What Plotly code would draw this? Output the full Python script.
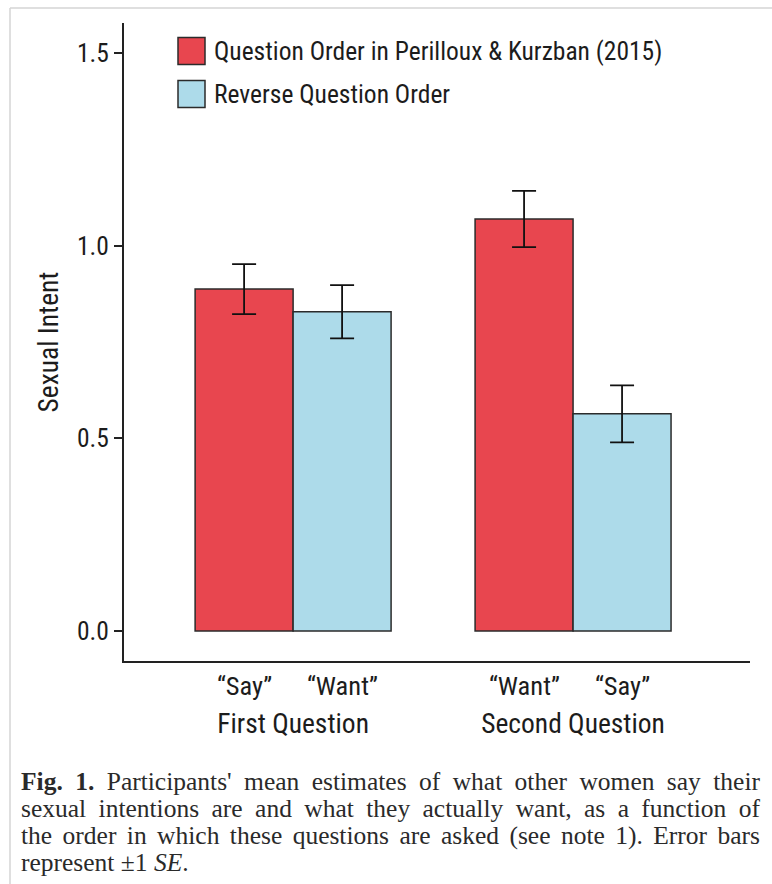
import json
import plotly.graph_objects as go

# ---- data ----
groups = ["First Question", "Second Question"]
series_names = ["Question Order in Perilloux & Kurzban (2015)", "Reverse Question Order"]
red_values = [0.888, 1.070]
red_se = [0.065, 0.073]
blue_values = [0.829, 0.564]
blue_se = [0.069, 0.074]
red_labels = ["\u201cSay\u201d", "\u201cWant\u201d"]
blue_labels = ["\u201cWant\u201d", "\u201cSay\u201d"]
y_ticks = [0.0, 0.5, 1.0, 1.5]
y_ticktext = ["0.0", "0.5", "1.0", "1.5"]
caption_lines = [
    "<b>Fig. 1.</b> Participants' mean estimates of what other women say their",
    "sexual intentions are and what they actually want, as a function of",
    "the order in which these questions are asked (see note 1). Error bars",
    "represent \u00b11 <i>SE</i>.",
]

RED = "#E8464F"
BLUE = "#ADDBEA"
EDGE = "#2b2b2b"
TXT = "#1c1c1c"
FONT = "Roboto Condensed, Liberation Sans Narrow, sans-serif"
SERIF = "Liberation Serif, Times New Roman, serif"

W, H = 772, 884
L, R, T, B = 124, 22, 23, 223
pw, ph = W - L - R, H - T - B
bargap = 0.30
half = (1 - bargap) / 4  # half-width of one bar in category units


def px_x(px):
    return (px - L) / pw


def px_y(py):
    return (H - B - py) / ph


fig = go.Figure()
fig.add_trace(go.Bar(
    x=groups, y=red_values, name=series_names[0],
    marker=dict(color=RED, line=dict(color=EDGE, width=1.5)),
    error_y=dict(type="data", array=red_se, color="#111111", thickness=1.8, width=12),
    showlegend=False,
))
fig.add_trace(go.Bar(
    x=groups, y=blue_values, name=series_names[1],
    marker=dict(color=BLUE, line=dict(color=EDGE, width=1.5)),
    error_y=dict(type="data", array=blue_se, color="#111111", thickness=1.8, width=12),
    showlegend=False,
))

annotations = []
for i, g in enumerate(groups):
    for lab, off in ((red_labels[i], -half), (blue_labels[i], half)):
        annotations.append(dict(
            x=i + off, xref="x", y=px_y(685), yref="paper", text=lab,
            showarrow=False, font=dict(family=FONT, size=26.5, color=TXT),
            xanchor="center", yanchor="middle"))

legend_rows = [(series_names[0], RED, 51), (series_names[1], BLUE, 94)]
shapes = []
for name, col, cy in legend_rows:
    shapes.append(dict(type="rect", xref="paper", yref="paper",
                       x0=px_x(178), x1=px_x(205), y0=px_y(cy + 13.5), y1=px_y(cy - 13.5),
                       fillcolor=col, line=dict(color=EDGE, width=1.5)))
    annotations.append(dict(x=px_x(212), xref="paper", y=px_y(cy), yref="paper",
                            text=name, showarrow=False, xanchor="left", yanchor="middle",
                            font=dict(family=FONT, size=25.5, color=TXT)))

shapes.append(dict(type="line", xref="paper", yref="paper", x0=px_x(10), x1=px_x(772),
                   y0=px_y(8), y1=px_y(8), line=dict(color="#d4d4d4", width=1.5)))
shapes.append(dict(type="line", xref="paper", yref="paper", x0=px_x(10), x1=px_x(10),
                   y0=px_y(8), y1=px_y(884), line=dict(color="#d4d4d4", width=1.5)))

caption_idx = []
for k, line in enumerate(caption_lines):
    caption_idx.append(len(annotations))
    annotations.append(dict(x=px_x(19), xref="paper", y=px_y(781 + 27 * k), yref="paper",
                            text=line, showarrow=False, xanchor="left", yanchor="middle",
                            font=dict(family=SERIF, size=25.5, color="#2a2a2a")))

fig.update_layout(
    width=W, height=H,
    margin=dict(l=L, r=R, t=T, b=B, autoexpand=False),
    paper_bgcolor="white", plot_bgcolor="white",
    barmode="group", bargap=bargap, bargroupgap=0,
    font=dict(family=FONT, color=TXT),
    annotations=annotations, shapes=shapes,
    xaxis=dict(range=[-0.604, 1.632], showgrid=False, zeroline=False,
               showline=True, linecolor="#222222", linewidth=2,
               ticks="", tickfont=dict(family=FONT, size=27.5, color=TXT),
               ticklabelstandoff=37, fixedrange=True),
    yaxis=dict(range=[-0.078, 1.579], showgrid=False, zeroline=False,
               showline=True, linecolor="#222222", linewidth=2,
               tickvals=y_ticks, ticktext=y_ticktext, ticks="outside", ticklen=8,
               tickwidth=1.5, tickcolor="#222222",
               tickfont=dict(family=FONT, size=25.5, color=TXT),
               title=dict(text="Sexual Intent", font=dict(family=FONT, size=27.5, color=TXT),
                          standoff=10)),
)

# justify the first three caption lines (like the printed caption)
justify = {str(caption_idx[k]): 739 for k in range(3)}
post = """
document.body.style.margin = '0px';
var targets = %s;
var gd = document.getElementById('{plot_id}');
Object.keys(targets).forEach(function(k){
  var t = gd.querySelector('g.annotation[data-index="' + k + '"] text.annotation-text');
  if (!t) return;
  var n = (t.textContent.match(/ /g) || []).length;
  var len = t.getComputedTextLength();
  var x0 = parseFloat(t.getAttribute('x'));
  var anchor = t.getAttribute('text-anchor') || 'start';
  var left = anchor === 'middle' ? x0 - len / 2 : (anchor === 'end' ? x0 - len : x0);
  t.setAttribute('text-anchor', 'start');
  t.setAttribute('x', left);
  if (n > 0 && len < targets[k]) { t.style.wordSpacing = ((targets[k] - len) / n) + 'px'; }
});
""" % json.dumps(justify)

fig.write_html("out.html", post_script=post, config={"displayModeBar": False})
